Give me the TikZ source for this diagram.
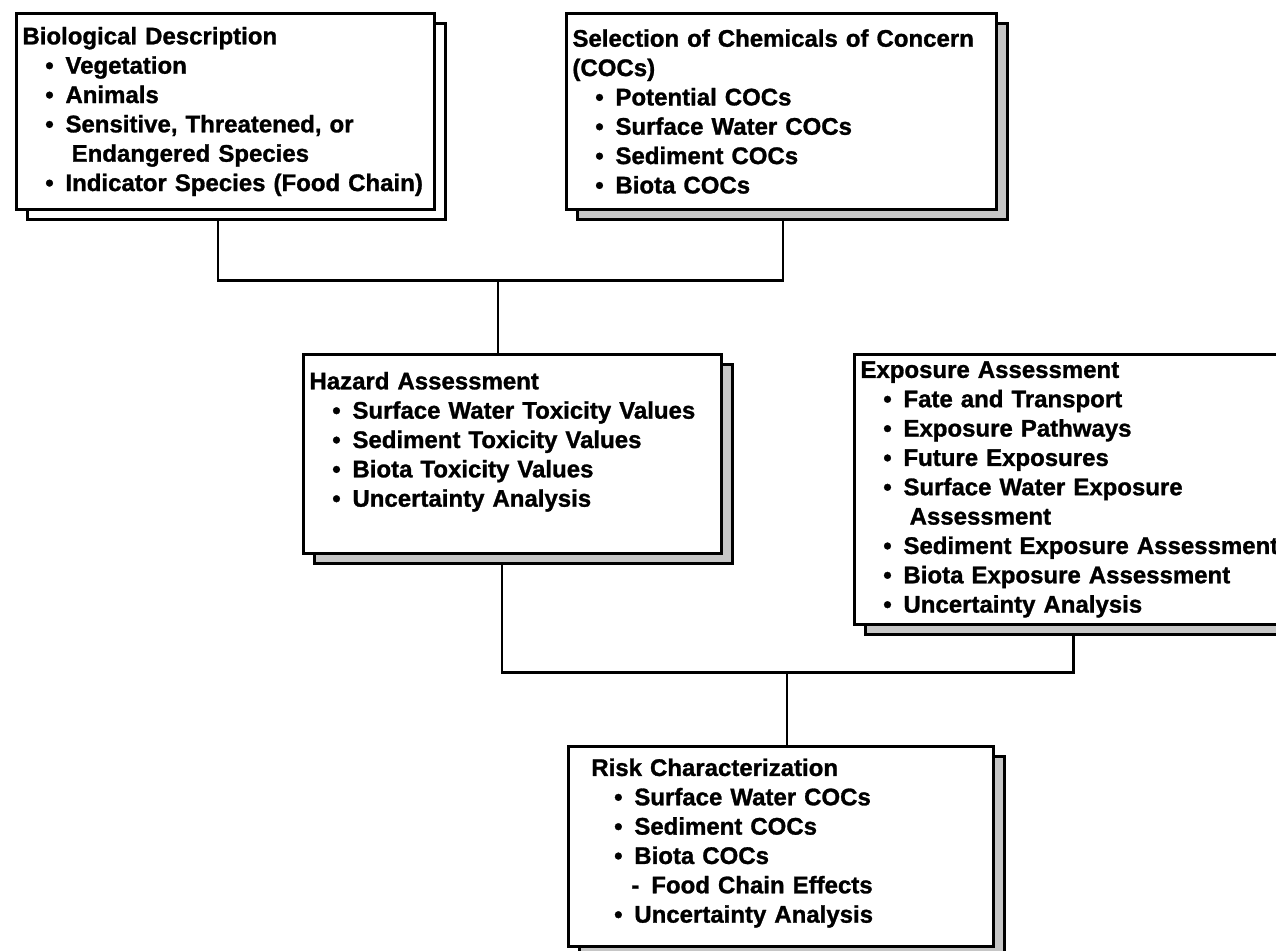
\documentclass[tikz,border=0pt]{standalone}
\usepackage{fontspec}
\setmainfont{Liberation Sans}[BoldFeatures={FakeBold=1.2}]
\usetikzlibrary{positioning}
\usetikzlibrary{shadows}
\usetikzlibrary{backgrounds}

\newcommand{\bul}[1]{\hspace*{13pt}\textbullet\hspace{6.7pt}#1}
\newcommand{\bulcont}[1]{\hspace*{28pt}#1}
\newcommand{\subbul}[1]{\hspace*{22.8pt}-\hspace{6.8pt}#1}

\begin{document}
\begin{tikzpicture}[x=0.02cm, y=-0.02cm,
                box/.style={rectangle, draw, line width=1.7pt, fill=white, anchor=north west, align=left, inner xsep=3.4pt, inner ysep=2pt, font=\bfseries\fontsize{13.66}{16.7}\selectfont},
                greybox/.style={box, drop shadow={shadow xshift=0.22cm, shadow yshift=-0.2cm, fill=gray!45, draw=black, line width=1.7pt, opacity=1}},
                whitebox/.style={box, drop shadow={shadow xshift=0.22cm, shadow yshift=-0.2cm, fill=white, draw=black, line width=1.7pt, opacity=1}},
                link/.style={line width=1.7pt},
            ]
            \useasboundingbox (0,0) rectangle (1276,951);
            % Nodes
            \node[whitebox, text width=8.36cm-6.8pt, minimum height=3.92cm] (bio) at (15,12)
                {Biological Description\\
                 \bul{Vegetation}\\
                 \bul{Animals}\\
                 \bul{Sensitive, Threatened, or}\\
                 \bulcont{Endangered Species}\\
                 \bul{Indicator Species (Food Chain)}};

            \node[greybox, text width=8.6cm-6.8pt, minimum height=3.92cm] (coc) at (565,12)
                {Selection of Chemicals of Concern\\
                 (COCs)\\
                 \bul{Potential COCs}\\
                 \bul{Surface Water COCs}\\
                 \bul{Sediment COCs}\\
                 \bul{Biota COCs}};

            \node[greybox, text width=8.36cm-6.8pt, minimum height=3.98cm] (hazard) at (302,353)
                {Hazard Assessment\\
                 \bul{Surface Water Toxicity Values}\\
                 \bul{Sediment Toxicity Values}\\
                 \bul{Biota Toxicity Values}\\
                 \bul{Uncertainty Analysis}\\
                 \mbox{}};

            \node[greybox, text width=8.8cm-6.8pt, minimum height=5.4cm] (exposure) at (853,353)
                {Exposure Assessment\\
                 \bul{Fate and Transport}\\
                 \bul{Exposure Pathways}\\
                 \bul{Future Exposures}\\
                 \bul{Surface Water Exposure}\\
                 \bulcont{Assessment}\\
                 \bul{Sediment Exposure Assessment}\\
                 \bul{Biota Exposure Assessment}\\
                 \bul{Uncertainty Analysis}};

            \node[greybox, inner xsep=13pt, text width=8.5cm-26pt, minimum height=4cm] (risk) at (567,745)
                {Risk Characterization\\
                 \bul{Surface Water COCs}\\
                 \bul{Sediment COCs}\\
                 \bul{Biota COCs}\\
                 \subbul{Food Chain Effects}\\
                 \bul{Uncertainty Analysis}\\[-10pt]
                 \mbox{}};

            \coordinate (bio_drop) at (218,280);
            \coordinate (coc_drop) at (783,280);
            \coordinate (top_join) at (498,280);
            \coordinate (hazard_drop) at (502,672);
            \coordinate (exposure_drop) at (1073,672);
            \coordinate (low_join) at (787,672);

            %Lines
            \begin{scope}[on background layer]
            \draw[link] (bio.south -| bio_drop) -- (bio_drop) -- (coc_drop) -- (coc.south -| coc_drop);
            \draw[link] (top_join) -- (hazard.north -| top_join);
            \draw[link] (hazard.south -| hazard_drop) -- (hazard_drop) -- (exposure_drop) -- (exposure.south -| exposure_drop);
            \draw[link] (low_join) -- (risk.north -| low_join);
            \end{scope}
        \end{tikzpicture}
\end{document}
